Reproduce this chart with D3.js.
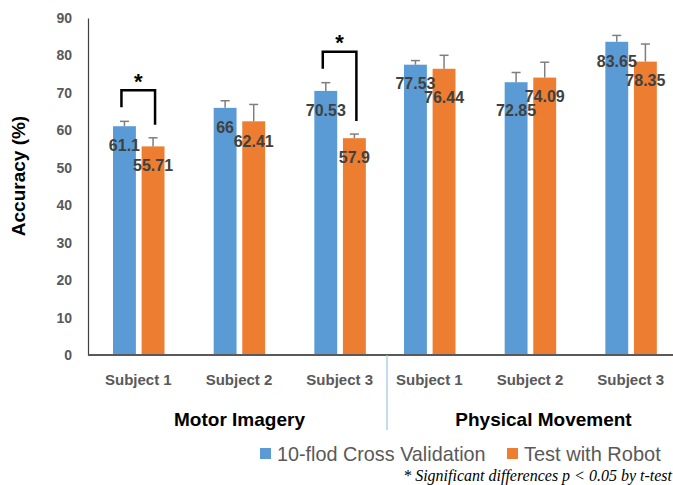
<!DOCTYPE html>
<html>
<head>
<meta charset="utf-8">
<script src="https://cdn.jsdelivr.net/npm/d3@7"></script>
<style>
  html, body { margin: 0; padding: 0; background: #fff; }
  svg { display: block; }
</style>
</head>
<body>
<svg id="chart" width="673" height="485" font-family="'Liberation Sans', Arial, sans-serif"></svg>
<script>
// Classification accuracy per subject, two conditions, two evaluation methods
const groups = ["Motor Imagery", "Physical Movement"];
const subjects = ["Subject 1", "Subject 2", "Subject 3"];
const seriesNames = ["10-flod Cross Validation", "Test with Robot"];
const crossVal = [61.1, 66, 70.53, 77.53, 72.85, 83.65];
const robot = [55.71, 62.41, 57.9, 76.44, 74.09, 78.35];
const crossValErr = [1.3, 1.9, 2.2, 1.1, 2.6, 1.7];
const robotErr = [2.3, 4.5, 1.1, 3.6, 4.1, 4.7];
const yTicks = [0, 10, 20, 30, 40, 50, 60, 70, 80, 90];
const significant = [["Motor Imagery", "Subject 1"], ["Motor Imagery", "Subject 3"]];
const footnote = "* Significant differences p < 0.05 by t-test";

const colors = ["#5B9BD5", "#ED7D31"];

// rows: one per group/subject pair
const rows = [];
groups.forEach((g, gi) => subjects.forEach((s, si) => {
  const i = gi * subjects.length + si;
  rows.push({ group: g, subject: s,
    bars: [
      { series: seriesNames[0], value: crossVal[i], err: crossValErr[i] },
      { series: seriesNames[1], value: robot[i], err: robotErr[i] }
    ] });
}));

const svg = d3.select("#chart");

const y = d3.scaleLinear().domain([0, 90]).range([355, 18]);
const xGroup = d3.scaleOrdinal().domain(groups).range([88, 379]);
const xSubject = d3.scaleBand().domain(subjects).range([0, 302]);
const xSeries = d3.scaleBand().domain(seriesNames).range([25, 76.5]).paddingInner(0.2);
const color = d3.scaleOrdinal().domain(seriesNames).range(colors);

const barX = (r, b) => xGroup(r.group) + xSubject(r.subject) + xSeries(b.series);
const barCx = (r, b) => barX(r, b) + xSeries.bandwidth() / 2;

// label placement: just inside the bar top, the lower label pushed down when the pair collide
const labelInset = 19, labelGap = 14;
rows.forEach(r => {
  r.bars.forEach(b => { b.ly = y(b.value) + labelInset; });
  const [a, b] = r.bars;
  if (Math.abs(a.ly - b.ly) < labelGap) {
    const lo = a.value < b.value ? a : b, hi = lo === a ? b : a;
    lo.ly = hi.ly + labelGap;
  }
});

// y axis
const yAxis = svg.append("g")
  .attr("transform", "translate(88,0)")
  .call(d3.axisLeft(y).tickValues(yTicks).tickSize(0).tickPadding(16));
yAxis.select(".domain").attr("stroke", "#404040").attr("stroke-width", 1.2);
yAxis.selectAll("text")
  .attr("font-family", "'Liberation Sans', Arial, sans-serif")
  .attr("font-size", 14).attr("font-weight", "bold").attr("fill", "#595959");

svg.append("text")
  .attr("transform", "translate(25,176) rotate(-90)")
  .attr("text-anchor", "middle")
  .attr("font-size", 19).attr("font-weight", "bold").attr("fill", "#000")
  .text("Accuracy (%)");

// bars
const rowG = svg.append("g").selectAll("g").data(rows).join("g");

rowG.selectAll("rect").data(r => r.bars.map(b => ({ r, b }))).join("rect")
  .attr("x", d => barX(d.r, d.b))
  .attr("width", xSeries.bandwidth())
  .attr("y", d => y(d.b.value))
  .attr("height", d => y(0) - y(d.b.value))
  .attr("fill", d => color(d.b.series));

// error bars
const errG = rowG.selectAll("g.err").data(r => r.bars.map(b => ({ r, b }))).join("g")
  .attr("class", "err").attr("stroke", "#7F7F7F").attr("stroke-width", 1.5);
errG.append("line")
  .attr("x1", d => barCx(d.r, d.b)).attr("x2", d => barCx(d.r, d.b))
  .attr("y1", d => y(d.b.value)).attr("y2", d => y(d.b.value + d.b.err));
errG.append("line")
  .attr("x1", d => barCx(d.r, d.b) - 4.5).attr("x2", d => barCx(d.r, d.b) + 4.5)
  .attr("y1", d => y(d.b.value + d.b.err)).attr("y2", d => y(d.b.value + d.b.err));

// value labels
rowG.selectAll("text.val").data(r => r.bars.map(b => ({ r, b }))).join("text")
  .attr("class", "val")
  .attr("x", d => barCx(d.r, d.b))
  .attr("y", d => d.b.ly)
  .attr("dy", "0.36em")
  .attr("text-anchor", "middle")
  .attr("font-size", 16).attr("font-weight", "bold").attr("fill", "#404040")
  .text(d => d.b.value);

// x axis line
svg.append("line")
  .attr("x1", 88).attr("x2", 673).attr("y1", y(0)).attr("y2", y(0))
  .attr("stroke", "#595959").attr("stroke-width", 2);

// subject labels
svg.append("g").selectAll("text").data(rows).join("text")
  .attr("x", r => xGroup(r.group) + xSubject(r.subject) + xSubject.bandwidth() / 2)
  .attr("y", 380).attr("dy", "0.36em")
  .attr("text-anchor", "middle")
  .attr("font-size", 15).attr("font-weight", "bold").attr("fill", "#595959")
  .text(r => r.subject);

// group separator
const sepX = xGroup(groups[1]) + 8;
svg.append("line")
  .attr("x1", sepX).attr("x2", sepX).attr("y1", y(0)).attr("y2", 430)
  .attr("stroke", "#9DC3E6").attr("stroke-width", 1.2);

// group labels
const groupLabelX = [(xGroup(groups[0]) + sepX) / 2 + 2, (sepX + 700) / 2];
svg.append("g").selectAll("text").data(groups).join("text")
  .attr("x", (g, i) => groupLabelX[i])
  .attr("y", 419).attr("dy", "0.36em")
  .attr("text-anchor", "middle")
  .attr("font-size", 19).attr("font-weight", "bold").attr("fill", "#000")
  .text(g => g);

// significance brackets
significant.forEach(([g, s]) => {
  const r = rows.find(d => d.group === g && d.subject === s);
  const [a, b] = r.bars;
  const xa = barCx(r, a) - 3, xb = barCx(r, b) + 2;
  const ta = y(a.value + a.err), tb = y(b.value + b.err);
  const top = Math.min(ta, tb) - 31;
  svg.append("path")
    .attr("d", `M${xa},${ta - 14}V${top}H${xb}V${tb - 13}`)
    .attr("fill", "none").attr("stroke", "#000").attr("stroke-width", 2.5);
  svg.append("text")
    .attr("x", (xa + xb) / 2).attr("y", top - 1.5)
    .attr("text-anchor", "middle")
    .attr("font-size", 22).attr("font-weight", "bold").attr("fill", "#000")
    .text("*");
});

// legend
const legendX = [260, 507], legendSize = [19.8, 20];
const legend = svg.append("g").selectAll("g").data(seriesNames).join("g")
  .attr("transform", (d, i) => `translate(${legendX[i]},448)`);
legend.append("rect").attr("width", 11).attr("height", 11).attr("fill", d => color(d));
legend.append("text")
  .attr("x", 17).attr("y", 5.5).attr("dy", "0.36em")
  .attr("font-size", (d, i) => legendSize[i]).attr("fill", "#595959")
  .text(d => d);

// footnote
svg.append("text")
  .attr("x", 672).attr("y", 475).attr("dy", "0.35em")
  .attr("text-anchor", "end")
  .attr("font-family", "'Liberation Serif', 'Times New Roman', serif")
  .attr("font-style", "italic").attr("font-size", 16).attr("fill", "#000")
  .text(footnote);
</script>
</body>
</html>
